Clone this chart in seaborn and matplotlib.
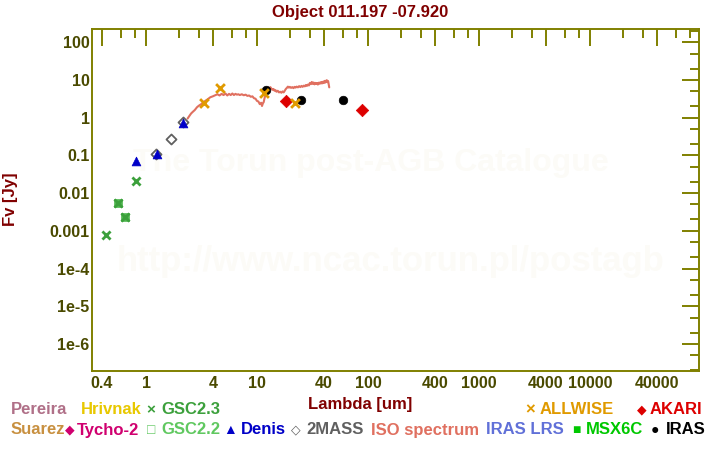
import matplotlib
matplotlib.use('Agg')
import matplotlib.pyplot as plt
import numpy as np
import pandas as pd
import seaborn as sns
from matplotlib.ticker import FixedLocator, FixedFormatter, NullFormatter

sns.set_style('white')
plt.rcParams['font.family'] = ['Liberation Sans', 'DejaVu Sans']
plt.rcParams['font.weight'] = 'bold'

# photometry (wavelength in um, flux in Jy)
gsc23_wave = [0.44, 0.555, 0.64, 0.81]
gsc23_flux = [0.00079, 0.0054, 0.0023, 0.021]
gsc22_wave = [0.555, 0.64]
gsc22_flux = [0.0054, 0.0023]
denis_wave = [0.82, 1.246, 2.14]
denis_flux = [0.073, 0.108, 0.74]
mass2_wave = [1.235, 1.67, 2.16]
mass2_flux = [0.11, 0.27, 0.77]
allwise_wave = [3.35, 4.64, 11.5, 21.8]
allwise_flux = [2.42, 6.0, 4.6, 2.42]
iras_wave = [12.0, 24.7, 60.0]
iras_flux = [5.45, 2.91, 2.9]
akari_wave = [18.1, 89.0]
akari_flux = [2.79, 1.61]

iso_wave = [2.37, 2.45, 2.55, 2.65, 2.75, 2.88, 3.0, 3.15, 3.3, 3.45, 3.6, 3.8,
            4.0, 4.2, 4.4, 4.6, 4.8, 5.0, 5.2, 5.4, 5.6, 5.8, 6.0, 6.2, 6.4,
            6.6, 6.8, 7.0, 7.3, 7.6, 7.9, 8.2, 8.5, 8.8, 9.1, 9.4, 9.7, 10.0,
            10.3, 10.6, 10.9, 11.1, 11.3, 11.5, 11.7, 11.9, 12.1, 12.3, 12.6,
            12.9, 13.2, 13.5, 13.8, 14.1, 14.4, 14.7, 15.0, 15.4, 15.8, 16.2,
            16.6, 17.0, 17.4, 17.8, 18.2, 18.6, 19.0, 19.4, 19.8, 20.3, 20.8,
            21.3, 21.8, 22.3, 22.8, 23.4, 24.0, 24.6, 25.2, 25.8, 26.4, 27.0,
            27.6, 28.2, 28.8, 29.4, 30.0, 30.6, 31.2, 31.8, 32.4, 33.0, 33.6,
            34.2, 34.8, 35.4, 36.0, 36.6, 37.2, 37.8, 38.4, 39.0, 39.6, 40.2,
            40.8, 41.4, 42.0, 42.6, 43.2, 43.8, 44.4, 44.8]
iso_flux = [0.95, 1.1, 1.3, 1.45, 1.6, 1.9, 2.1, 2.3, 2.6, 2.85, 3.1, 3.5,
            3.7, 3.95, 4.2, 3.9, 4.3, 4.0, 4.4, 3.9, 4.3, 4.0, 4.4, 4.0, 4.3,
            4.1, 4.2, 4.0, 4.2, 3.95, 4.1, 3.8, 3.9, 3.6, 3.7, 3.3, 3.2, 2.8,
            2.7, 2.3, 2.5, 2.05, 2.4, 2.6, 3.3, 3.9, 5.2, 5.9, 6.3,
            6.0, 6.5, 5.9, 5.5, 5.8, 5.2, 5.4, 4.9, 5.2, 4.7, 4.9,
            4.6, 5.0, 4.7, 5.2, 5.8, 6.2, 6.7, 6.3, 6.6, 6.2, 6.5,
            6.1, 6.6, 6.3, 6.7, 6.4, 6.9, 6.5, 7.0, 6.6, 7.1, 6.8,
            7.4, 7.0, 7.6, 7.2, 8.4, 7.8, 8.9, 7.9, 8.6, 7.7, 8.4,
            7.9, 8.3, 7.6, 8.5, 8.0, 8.7, 8.1, 8.9, 8.2, 9.1, 8.4,
            9.5, 8.6, 9.6, 9.9, 8.8, 9.4, 7.5, 6.4]

x_major = [0.4, 1, 4, 10, 40, 100, 400, 1000, 4000, 10000, 40000]
x_labels = ['0.4', '1', '4', '10', '40', '100', '400', '1000', '4000', '10000', '40000']
x_minor = [0.6, 0.8, 2, 3, 6, 8, 20, 30, 60, 80, 200, 300, 600, 800,
           2000, 3000, 6000, 8000, 20000, 30000, 60000, 80000]
y_major = [1e-6, 1e-5, 1e-4, 0.001, 0.01, 0.1, 1, 10, 100]
y_labels = ['1e-6', '1e-5', '1e-4', '0.001', '0.01', '0.1', '1', '10', '100']
y_minor = [2e-7, 5e-7, 2e-6, 5e-6, 2e-5, 5e-5, 2e-4, 5e-4, 0.002, 0.005,
           0.02, 0.05, 0.2, 0.5, 2, 5, 20, 50, 200]

olive = '#808000'
tick_txt = '#4a4a00'
dark_red = '#800000'

fig = plt.figure(figsize=(7.2, 4.5), dpi=100)
ax = fig.add_axes([92.3 / 720, 1 - 370.7 / 450, 607 / 720, 341.4 / 450])
ax.patch.set_visible(False)

# watermark
ax.text(371 / 720, 1 - 163 / 450, 'The Torun post-AGB Catalogue', transform=fig.transFigure,
        ha='center', va='center', fontsize=23, color='#fcfbf7', zorder=0)
ax.text(391 / 720, 1 - 262 / 450, 'http://www.ncac.torun.pl/postagb', transform=fig.transFigure,
        ha='center', va='center', fontsize=25, color='#fcfbf7', zorder=0)

iso = pd.DataFrame({'wave': iso_wave, 'flux': iso_flux})
sns.lineplot(data=iso, x='wave', y='flux', ax=ax, color='#e07060', lw=1.5,
             sort=False, estimator=None, zorder=2)

def points(w, f, **kw):
    df = pd.DataFrame({'wave': w, 'flux': f})
    sns.scatterplot(data=df, x='wave', y='flux', ax=ax, legend=False, zorder=3, **kw)

points(gsc22_wave, gsc22_flux, marker='s', s=38, color='#50b850', edgecolor='#50b850')
points(gsc23_wave, gsc23_flux, marker='x', s=34, color='#3ca03c', linewidth=2)
points(mass2_wave, mass2_flux, marker='D', s=26, facecolor='white', edgecolor='#606060', linewidth=1.3)
points(denis_wave, denis_flux, marker='^', s=40, color='#0000c8', edgecolor='#0000c8')
points(iras_wave, iras_flux, marker='o', s=38, color='black', edgecolor='black')
points(akari_wave, akari_flux, marker='D', s=40, color='#dd0000', edgecolor='#dd0000')
points(allwise_wave, allwise_flux, marker='x', s=40, color='#e09a00', linewidth=2)

ax.set_xscale('log')
ax.set_yscale('log')
ax.set_xlim(0.328, 97000)
ax.set_ylim(1.95e-7, 222)

ax.xaxis.set_major_locator(FixedLocator(x_major))
ax.xaxis.set_major_formatter(FixedFormatter(x_labels))
ax.xaxis.set_minor_locator(FixedLocator(x_minor))
ax.xaxis.set_minor_formatter(NullFormatter())
ax.yaxis.set_major_locator(FixedLocator(y_major))
ax.yaxis.set_major_formatter(FixedFormatter(y_labels))
ax.yaxis.set_minor_locator(FixedLocator(y_minor))
ax.yaxis.set_minor_formatter(NullFormatter())

ax.tick_params(which='both', direction='in', top=True, right=True, color=olive, width=1.4)
ax.tick_params(which='major', length=12.5, labelsize=11.5, labelcolor=tick_txt)
ax.tick_params(axis='y', which='major', pad=2)
ax.tick_params(axis='x', which='major', pad=4)
ax.tick_params(which='minor', length=6.3)
for sp in ax.spines.values():
    sp.set_color(olive)
    sp.set_linewidth(1.4)

ax.set_xlabel('')
ax.set_ylabel('')
fig.text(360 / 720, 1 - 404 / 450, 'Lambda [um]', ha='center', va='center',
         fontsize=12, color=dark_red)
fig.text(11 / 720, 1 - 199 / 450, 'Fv [Jy]', ha='center', va='center',
         rotation=90, fontsize=12, color=dark_red)
fig.text(360 / 720, 1 - 12 / 450, 'Object 011.197 -07.920', ha='center', va='center',
         fontsize=12, color=dark_red)

# legend as coloured words below the plot
legend_items = [
    (11, 410, 'Pereira', '#b07088', 12),
    (81, 410, 'Hrivnak', '#e8c800', 12),
    (151, 410, '×', '#3ca03c', 11),
    (161, 410, 'GSC2.3', '#3ca03c', 12),
    (530, 410, '×', '#e09a00', 12),
    (540, 410, 'ALLWISE', '#e09a00', 12),
    (642, 410, '◆', '#dd0000', 9),
    (650, 410, 'AKARI', '#dd0000', 12),
    (11, 430, 'Suarez', '#c89040', 12),
    (70, 430, '◆', '#d0006f', 9),
    (77, 430, 'Tycho-2', '#d0006f', 12),
    (151, 430, '□', '#60c860', 10),
    (161, 430, 'GSC2.2', '#60c860', 12),
    (230, 430, '▲', '#0000c8', 10),
    (241, 430, 'Denis', '#0000c8', 12),
    (296, 430, '◇', '#606060', 9),
    (306, 430, '2MASS', '#606060', 12),
    (371, 430, 'ISO spectrum', '#e07060', 12),
    (486, 430, 'IRAS LRS', '#6070d8', 12),
    (576, 430, '■', '#00c800', 10),
    (586, 430, 'MSX6C', '#00c800', 12),
    (655, 430, '●', 'black', 10),
    (666, 430, 'IRAS', 'black', 12),
]
for x, y, label, col, size in legend_items:
    ha = 'center' if len(label) == 1 else 'left'
    fig.text(x / 720, 1 - y / 450, label, ha=ha, va='center', fontsize=size, color=col)

fig.savefig('out.png', dpi=100)
